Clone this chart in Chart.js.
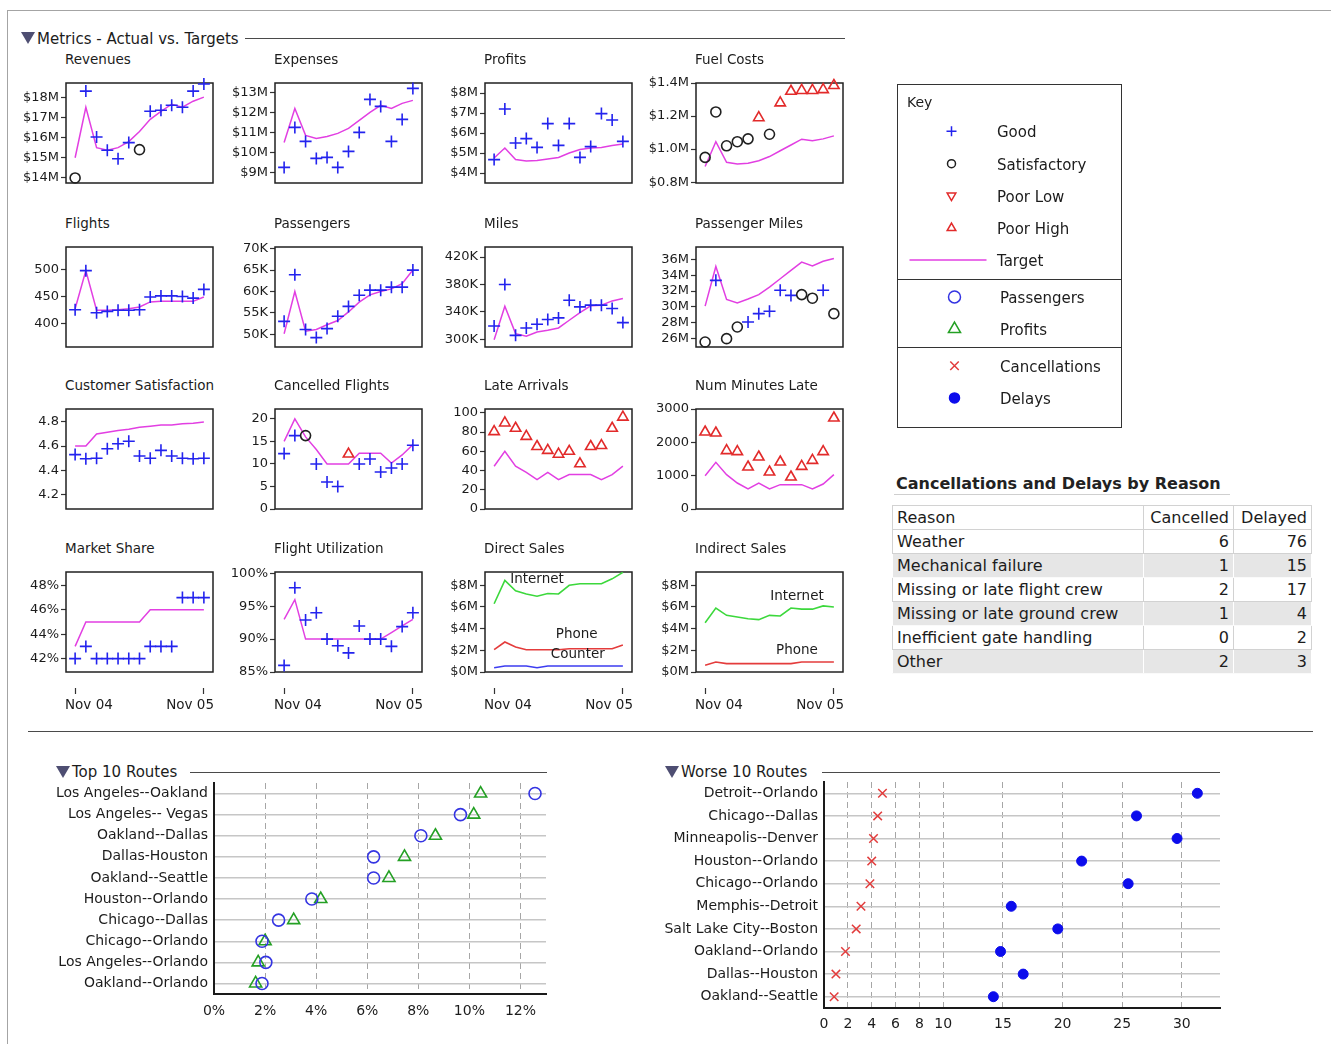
<!DOCTYPE html>
<html>
<head>
<meta charset="utf-8">
<title>Airline Metrics Dashboard</title>
<script src="https://cdn.jsdelivr.net/npm/chart.js@4.4.1/dist/chart.umd.min.js"></script>
<style>
  html, body { margin: 0; padding: 0; background: #fff; }
  body { width: 1331px; height: 1044px; position: relative; overflow: hidden;
         font-family: 'DejaVu Sans', sans-serif; color: #1c1c1c; }
  canvas { position: absolute; }
  .frame { position: absolute; left: 7px; top: 10px; width: 1400px; height: 1100px;
           border-left: 1.5px solid #a4a4a4; border-top: 1.5px solid #a4a4a4; }
  .ttl { position: absolute; font-size: 13.5px; line-height: 16px; white-space: nowrap; }
  .sec { position: absolute; font-size: 15px; line-height: 18px; white-space: nowrap; }
  .tri { position: absolute; width: 0; height: 0; border-left: 7px solid transparent;
         border-right: 7px solid transparent; border-top: 12px solid #4e4e72; }
  .rule { position: absolute; height: 0; border-top: 1.5px solid #4a4a4a; }
  #key { position: absolute; left: 897px; top: 84px; width: 225px; height: 344px;
         border: 1.5px solid #333; box-sizing: border-box; }
  #key .sep { position: absolute; left: 0; right: 0; height: 0; border-top: 1.5px solid #333; }
  #key .kt { position: absolute; font-size: 15px; line-height: 18px; white-space: nowrap; }
  #tblTitle { position: absolute; left: 896px; top: 474px; font-size: 16px; font-weight: bold;
              line-height: 20px; white-space: nowrap; color: #222; }
  #tblRule { position: absolute; left: 894px; top: 494px; width: 336px; height: 0;
             border-top: 1.5px solid #cfcfcf; }
  #reasons { position: absolute; left: 892px; top: 505px; border-collapse: collapse;
             font-size: 16px; table-layout: fixed; width: 419px; }
  #reasons td { height: 23px; padding: 0 4px; border: 1px solid #d2d2d2; line-height: 22px;
                white-space: nowrap; overflow: hidden; }
  #reasons td.n { text-align: right; }
  #reasons tr.alt td { background: #e6e6e6; border-color: #fafafa #fff #fafafa #fff; }
</style>
</head>
<body>
<div class="frame"></div>

<!-- section headers -->
<div class="tri" style="left:21px;top:32px;"></div>
<div class="sec" style="left:37px;top:30px;">Metrics - Actual vs. Targets</div>
<div class="rule" style="left:245px;top:38px;width:600px;"></div>

<div class="rule" style="left:28px;top:731px;width:1285px;border-top-width:1.5px;"></div>

<div class="tri" style="left:56px;top:766px;"></div>
<div class="sec" style="left:72px;top:763px;">Top 10 Routes</div>
<div class="rule" style="left:190px;top:772px;width:357px;"></div>

<div class="tri" style="left:665px;top:766px;"></div>
<div class="sec" style="left:681px;top:763px;">Worse 10 Routes</div>
<div class="rule" style="left:822px;top:772px;width:398px;"></div>

<!-- key -->
<div id="key">
  <canvas id="keyCanvas" width="222" height="341" style="left:0;top:0;width:222px;height:341px;"></canvas>
  <div class="kt" style="left:9px;top:8px;font-size:14px;">Key</div>
  <div class="kt" style="left:99px;top:38px;">Good</div>
  <div class="kt" style="left:99px;top:71px;">Satisfactory</div>
  <div class="kt" style="left:99px;top:103px;">Poor Low</div>
  <div class="kt" style="left:99px;top:135px;">Poor High</div>
  <div class="kt" style="left:99px;top:167px;">Target</div>
  <div class="sep" style="top:194px;"></div>
  <div class="kt" style="left:102px;top:204px;">Passengers</div>
  <div class="kt" style="left:102px;top:236px;">Profits</div>
  <div class="sep" style="top:262px;"></div>
  <div class="kt" style="left:102px;top:273px;">Cancellations</div>
  <div class="kt" style="left:102px;top:305px;">Delays</div>
</div>

<div id="tblTitle">Cancellations and Delays by Reason</div>
<div id="tblRule"></div>
<table id="reasons">
  <colgroup><col style="width:251px"><col style="width:90px"><col style="width:78px"></colgroup>
  <tbody id="reasonBody"></tbody>
</table>

<script>
// ---------- monthly metrics, Nov 04 .. Nov 05 ----------
const months = ['Nov 04','Dec 04','Jan 05','Feb 05','Mar 05','Apr 05','May 05',
                'Jun 05','Jul 05','Aug 05','Sep 05','Oct 05','Nov 05'];
const monthTicks = [0, 12];

// status codes: G good, S satisfactory, L poor low, H poor high
const revenuesActual = [14.0, 18.3, 16.03, 15.37, 14.95, 15.75, 15.4, 17.3, 17.35, 17.6, 17.5, 18.3, 18.65];
const revenuesStatus = ['S','G','G','G','G','G','S','G','G','G','G','G','G'];
const revenuesTarget = [15.0, 17.5, 15.5, 15.37, 15.5, 15.8, 16.3, 16.9, 17.3, 17.65, 17.5, 17.8, 18.0];
const revenuesTicks = [14, 15, 16, 17, 18];
const revenuesTickLabels = ['$14M', '$15M', '$16M', '$17M', '$18M'];

const expensesActual = [9.25, 11.25, 10.55, 9.7, 9.75, 9.25, 10.05, 11.0, 12.65, 12.3, 10.55, 11.65, 13.2];
const expensesStatus = ['G','G','G','G','G','G','G','G','G','G','G','G','G'];
const expensesTarget = [10.5, 12.2, 10.85, 10.7, 10.8, 10.95, 11.2, 11.6, 12.0, 12.35, 12.2, 12.45, 12.6];
const expensesTicks = [9, 10, 11, 12, 13];
const expensesTickLabels = ['$9M', '$10M', '$11M', '$12M', '$13M'];

const profitsActual = [4.67, 7.2, 5.5, 5.72, 5.28, 6.47, 5.38, 6.47, 4.78, 5.32, 6.97, 6.65, 5.58];
const profitsStatus = ['G','G','G','G','G','G','G','G','G','G','G','G','G'];
const profitsTarget = [4.75, 5.25, 4.67, 4.6, 4.62, 4.7, 4.78, 5.0, 5.17, 5.25, 5.28, 5.37, 5.45];
const profitsTicks = [4, 5, 6, 7, 8];
const profitsTickLabels = ['$4M', '$5M', '$6M', '$7M', '$8M'];

const fuelActual = [0.95, 1.225, 1.02, 1.045, 1.062, 1.19, 1.09, 1.28, 1.35, 1.355, 1.355, 1.36, 1.385];
const fuelStatus = ['S','S','S','S','S','H','S','H','H','H','H','H','H'];
const fuelTarget = [0.895, 1.045, 0.92, 0.91, 0.915, 0.93, 0.955, 0.99, 1.025, 1.06, 1.05, 1.062, 1.08];
const fuelTicks = [0.8, 1.0, 1.2, 1.4];
const fuelTickLabels = ['$0.8M', '$1.0M', '$1.2M', '$1.4M'];

const flightsActual = [425.5, 497.5, 420, 422.5, 424.5, 424.5, 425.5, 449, 451, 451, 450, 447, 463];
const flightsStatus = ['G','G','G','G','G','G','G','G','G','G','G','G','G'];
const flightsTarget = [427.5, 497.5, 424.5, 424.5, 425.5, 427.5, 430.7, 440, 441, 441, 441, 441, 449];
const flightsTicks = [400, 450, 500];
const flightsTickLabels = ['400', '450', '500'];

const passengersActual = [53.0, 63.9, 51.1, 49.2, 51.3, 54.2, 56.5, 59.1, 60.3, 60.3, 61.0, 61.0, 65.0];
const passengersStatus = ['G','G','G','G','G','G','G','G','G','G','G','G','G'];
const passengersTarget = [50.1, 60.0, 50.7, 51.1, 52.2, 53.2, 55.2, 57.5, 59.2, 60.0, 60.6, 61.8, 65.0];
const passengersTicks = [50, 55, 60, 65, 70];
const passengersTickLabels = ['50K', '55K', '60K', '65K', '70K'];

const milesActual = [319.5, 380, 305.8, 316.6, 322, 328.8, 331.2, 357, 347.3, 349.8, 349.8, 344.9, 324.4];
const milesStatus = ['G','G','G','G','G','G','G','G','G','G','G','G','G'];
const milesTarget = [299.5, 348.3, 308.3, 304.4, 310.7, 313.2, 316.6, 327.8, 339, 348.8, 349.8, 356, 359.5];
const milesTicks = [300, 340, 380, 420];
const milesTickLabels = ['300K', '340K', '380K', '420K'];

const paxMilesActual = [25.58, 33.35, 26.0, 27.47, 28.1, 29.15, 29.45, 32.1, 31.45, 31.55, 31.1, 32.1, 29.15];
const paxMilesStatus = ['S','G','S','S','G','G','G','G','G','S','S','G','S'];
const paxMilesTarget = [30.1, 35.1, 30.95, 30.5, 31.0, 31.55, 32.5, 33.55, 34.6, 35.65, 35.15, 35.75, 36.1];
const paxMilesTicks = [26, 28, 30, 32, 34, 36];
const paxMilesTickLabels = ['26M', '28M', '30M', '32M', '34M', '36M'];

const satisfactionActual = [4.53, 4.495, 4.50, 4.578, 4.62, 4.64, 4.518, 4.50, 4.565, 4.518, 4.50, 4.495, 4.50];
const satisfactionStatus = ['G','G','G','G','G','G','G','G','G','G','G','G','G'];
const satisfactionTarget = [4.6, 4.6, 4.70, 4.715, 4.73, 4.74, 4.756, 4.765, 4.775, 4.775, 4.785, 4.79, 4.8];
const satisfactionTicks = [4.2, 4.4, 4.6, 4.8];
const satisfactionTickLabels = ['4.2', '4.4', '4.6', '4.8'];

const cancelledActual = [12.3, 16.3, 16.3, 10.0, 6.0, 5.0, 12.2, 10.0, 11.1, 8.2, 9.1, 10.0, 14.15];
const cancelledStatus = ['G','G','S','G','G','G','H','G','G','G','G','G','G'];
const cancelledTarget = [15, 20, 16, 13.2, 10, 10, 10, 12.4, 12.4, 12.4, 10.2, 12, 14.3];
const cancelledTicks = [0, 5, 10, 15, 20];
const cancelledTickLabels = ['0', '5', '10', '15', '20'];

const lateActual = [80.5, 89.5, 84, 75.5, 65, 61, 57, 60, 47, 65, 66, 84, 95.5];
const lateStatus = ['H','H','H','H','H','H','H','H','H','H','H','H','H'];
const lateTarget = [44.5, 60, 44.5, 38, 30.5, 38, 30.5, 35.8, 35.8, 35.8, 30.5, 35.8, 44.5];
const lateTicks = [0, 20, 40, 60, 80, 100];
const lateTickLabels = ['0', '20', '40', '60', '80', '100'];

const minutesActual = [2310, 2280, 1750, 1720, 1260, 1560, 1110, 1410, 960, 1280, 1460, 1720, 2730];
const minutesStatus = ['H','H','H','H','H','H','H','H','H','H','H','H','H'];
const minutesTarget = [1000, 1400, 1030, 780, 600, 780, 600, 730, 730, 730, 600, 750, 1030];
const minutesTicks = [0, 1000, 2000, 3000];
const minutesTickLabels = ['0', '1000', '2000', '3000'];

const shareActual = [42, 43, 42, 42, 42, 42, 42, 43, 43, 43, 47, 47, 47];
const shareStatus = ['G','G','G','G','G','G','G','G','G','G','G','G','G'];
const shareTarget = [43, 45, 45, 45, 45, 45, 45, 46, 46, 46, 46, 46, 46];
const shareTicks = [42, 44, 46, 48];
const shareTickLabels = ['42%', '44%', '46%', '48%'];

const utilActual = [86, 97.8, 92.9, 94, 90, 89, 87.9, 92, 90, 90, 88.9, 91.9, 94];
const utilStatus = ['G','G','G','G','G','G','G','G','G','G','G','G','G'];
const utilTarget = [93, 96, 90, 90, 90, 90, 90, 90, 90, 90, 91, 92, 93];
const utilTicks = [85, 90, 95, 100];
const utilTickLabels = ['85%', '90%', '95%', '100%'];

const directInternet = [6.3, 8.45, 7.5, 7.2, 7.0, 7.25, 7.2, 8.0, 8.15, 8.15, 8.15, 8.6, 9.2];
const directPhone    = [2.06, 2.77, 2.3, 2.06, 2.06, 2.06, 2.06, 2.15, 2.15, 2.15, 2.15, 2.15, 2.5];
const directCounter  = [0.4, 0.55, 0.55, 0.55, 0.4, 0.55, 0.55, 0.55, 0.55, 0.55, 0.55, 0.55, 0.55];
const indirectInternet = [4.55, 5.9, 5.23, 5.07, 4.92, 4.83, 5.23, 5.17, 5.9, 5.8, 5.8, 6.1, 6.0];
const indirectPhone    = [0.62, 0.92, 0.77, 0.77, 0.77, 0.77, 0.77, 0.77, 0.77, 0.92, 0.92, 0.92, 0.92];
const salesTicks = [0, 2, 4, 6, 8];
const salesTickLabels = ['$0M', '$2M', '$4M', '$6M', '$8M'];

// ---------- cancellations and delays by reason ----------
const reasons   = ['Weather', 'Mechanical failure', 'Missing or late flight crew',
                   'Missing or late ground crew', 'Inefficient gate handling', 'Other'];
const cancelled = [6, 1, 2, 1, 0, 2];
const delayed   = [76, 15, 17, 4, 2, 3];

// ---------- routes ----------
const topRoutes = ['Los Angeles--Oakland', 'Los Angeles-- Vegas', 'Oakland--Dallas', 'Dallas-Houston',
                   'Oakland--Seattle', 'Houston--Orlando', 'Chicago--Dallas', 'Chicago--Orlando',
                   'Los Angeles--Orlando', 'Oakland--Orlando'];
const topPassengers = [12.57, 9.65, 8.1, 6.25, 6.25, 3.83, 2.53, 1.88, 2.03, 1.88];
const topProfits    = [10.44, 10.17, 8.67, 7.46, 6.85, 4.18, 3.12, 2.0, 1.73, 1.63];
const topTicks = [0, 2, 4, 6, 8, 10, 12];

const worseRoutes = ['Detroit--Orlando', 'Chicago--Dallas', 'Minneapolis--Denver', 'Houston--Orlando',
                     'Chicago--Orlando', 'Memphis--Detroit', 'Salt Lake City--Boston', 'Oakland--Orlando',
                     'Dallas--Houston', 'Oakland--Seattle'];
const worseCancellations = [4.9, 4.5, 4.15, 4.0, 3.85, 3.1, 2.7, 1.8, 1.0, 0.85];
const worseDelays        = [31.3, 26.2, 29.6, 21.6, 25.5, 15.7, 19.6, 14.8, 16.7, 14.2];
const worseTicks = [0, 2, 4, 6, 8, 10, 15, 20, 25, 30];

// ---------- styling ----------
const FONT = 'DejaVu Sans';
Chart.defaults.font.family = FONT;
Chart.defaults.color = '#1c1c1c';

const TARGET = '#e23fe2';
const MARK = {
  G: { style: 'cross',    color: '#2323ee', r: 6, rot: 0 },
  S: { style: 'circle',   color: '#202020', r: 5, rot: 0 },
  H: { style: 'triangle', color: '#e22a2a', r: 6, rot: 0 },
  L: { style: 'triangle', color: '#e22a2a', r: 6, rot: 180 }
};
const GREEN = '#3cd83c', RED = '#e43c3c', BLUE = '#3c3cf0';

// grid of small multiples: plot-box geometry
const colLeft = [66, 275, 485, 696];
const rowTop = [83, 247, 409, 572];
const boxW = 147, boxH = 100;

// plot frame around the chart area
const frameBox = {
  id: 'frameBox',
  beforeDatasetsDraw(chart, args, opts) {
    if (!opts.show) return;
    const { ctx, chartArea: a } = chart;
    ctx.save();
    ctx.strokeStyle = '#202020';
    ctx.lineWidth = 1.5;
    ctx.strokeRect(a.left, a.top, a.right - a.left, a.bottom - a.top);
    ctx.restore();
  }
};

// inline names for the sales channels
const seriesLabels = {
  id: 'seriesLabels',
  afterDatasetsDraw(chart, args, opts) {
    const items = opts.items || [];
    if (!items.length) return;
    const { ctx } = chart, xs = chart.scales.x, ys = chart.scales.y;
    ctx.save();
    ctx.font = '13.5px "' + FONT + '"';
    ctx.fillStyle = '#1c1c1c';
    ctx.textAlign = 'center';
    ctx.textBaseline = 'middle';
    items.forEach(it => ctx.fillText(it.text, xs.getPixelForValue(it.x), ys.getPixelForValue(it.y)));
    ctx.restore();
  }
};

// first / last month names, held inside the plot width under the tick marks
const edgeLabels = {
  id: 'edgeLabels',
  afterDraw(chart, args, opts) {
    if (!opts.show) return;
    const { ctx, chartArea: a } = chart;
    const xs = chart.scales.x;
    const first = months[monthTicks[0]], last = months[monthTicks[monthTicks.length - 1]];
    const y = a.bottom + opts.offset;
    ctx.save();
    ctx.font = '13.5px "' + FONT + '"';
    ctx.fillStyle = '#1c1c1c';
    ctx.textBaseline = 'middle';
    const wFirst = ctx.measureText(first).width, wLast = ctx.measureText(last).width;
    const x0 = Math.max(a.left - 1, xs.getPixelForValue(monthTicks[0]) - wFirst / 2);
    const x1 = Math.min(a.right + 1, xs.getPixelForValue(monthTicks[monthTicks.length - 1]) + wLast / 2);
    ctx.textAlign = 'left';
    ctx.fillText(first, x0, y);
    ctx.textAlign = 'right';
    ctx.fillText(last, x1, y);
    ctx.restore();
  }
};

const panels = [
  { title: 'Revenues', col: 0, row: 0, actual: revenuesActual, status: revenuesStatus, target: revenuesTarget,
    min: 13.75, max: 18.7, ticks: revenuesTicks, tickLabels: revenuesTickLabels },
  { title: 'Expenses', col: 1, row: 0, actual: expensesActual, status: expensesStatus, target: expensesTarget,
    min: 8.47, max: 13.47, ticks: expensesTicks, tickLabels: expensesTickLabels },
  { title: 'Profits', col: 2, row: 0, actual: profitsActual, status: profitsStatus, target: profitsTarget,
    min: 3.5, max: 8.5, ticks: profitsTicks, tickLabels: profitsTickLabels },
  { title: 'Fuel Costs', col: 3, row: 0, actual: fuelActual, status: fuelStatus, target: fuelTarget,
    min: 0.795, max: 1.4, ticks: fuelTicks, tickLabels: fuelTickLabels },
  { title: 'Flights', col: 0, row: 1, actual: flightsActual, status: flightsStatus, target: flightsTarget,
    min: 357, max: 541, ticks: flightsTicks, tickLabels: flightsTickLabels },
  { title: 'Passengers', col: 1, row: 1, actual: passengersActual, status: passengersStatus, target: passengersTarget,
    min: 47, max: 70.4, ticks: passengersTicks, tickLabels: passengersTickLabels },
  { title: 'Miles', col: 2, row: 1, actual: milesActual, status: milesStatus, target: milesTarget,
    min: 288.8, max: 434.6, ticks: milesTicks, tickLabels: milesTickLabels },
  { title: 'Passenger Miles', col: 3, row: 1, actual: paxMilesActual, status: paxMilesStatus, target: paxMilesTarget,
    min: 24.95, max: 37.55, ticks: paxMilesTicks, tickLabels: paxMilesTickLabels },
  { title: 'Customer Satisfaction', col: 0, row: 2, actual: satisfactionActual, status: satisfactionStatus,
    target: satisfactionTarget, min: 4.08, max: 4.907, ticks: satisfactionTicks, tickLabels: satisfactionTickLabels },
  { title: 'Cancelled Flights', col: 1, row: 2, actual: cancelledActual, status: cancelledStatus, target: cancelledTarget,
    min: 0, max: 22.2, ticks: cancelledTicks, tickLabels: cancelledTickLabels },
  { title: 'Late Arrivals', col: 2, row: 2, actual: lateActual, status: lateStatus, target: lateTarget,
    min: 0, max: 104, ticks: lateTicks, tickLabels: lateTickLabels },
  { title: 'Num Minutes Late', col: 3, row: 2, actual: minutesActual, status: minutesStatus, target: minutesTarget,
    min: 0, max: 3000, ticks: minutesTicks, tickLabels: minutesTickLabels },
  { title: 'Market Share', col: 0, row: 3, actual: shareActual, status: shareStatus, target: shareTarget,
    min: 40.9, max: 49.1, ticks: shareTicks, tickLabels: shareTickLabels },
  { title: 'Flight Utilization', col: 1, row: 3, actual: utilActual, status: utilStatus, target: utilTarget,
    min: 85, max: 100.2, ticks: utilTicks, tickLabels: utilTickLabels },
  { title: 'Direct Sales', col: 2, row: 3, min: 0, max: 9.23, ticks: salesTicks, tickLabels: salesTickLabels,
    lines: [{ data: directInternet, color: GREEN }, { data: directPhone, color: RED }, { data: directCounter, color: BLUE }],
    names: [{ text: 'Internet', x: 4.0, y: 8.5 }, { text: 'Phone', x: 7.7, y: 3.5 }, { text: 'Counter', x: 7.8, y: 1.65 }] },
  { title: 'Indirect Sales', col: 3, row: 3, min: 0, max: 9.23, ticks: salesTicks, tickLabels: salesTickLabels,
    lines: [{ data: indirectInternet, color: GREEN }, { data: indirectPhone, color: RED }],
    names: [{ text: 'Internet', x: 8.56, y: 6.95 }, { text: 'Phone', x: 8.56, y: 2.0 }] }
];

const toPoints = arr => arr.map((v, i) => ({ x: i, y: v }));

function createPanel(p) {
  const left = colLeft[p.col], top = rowTop[p.row];
  const bottomRow = p.row === 3;
  const padT = 14, padR = 28, axisW = 60, xAxisH = 50;
  const padB = bottomRow ? 0 : 14;
  const W = axisW + boxW + padR;
  const H = padT + boxH + (bottomRow ? xAxisH : padB);

  const cv = document.createElement('canvas');
  cv.width = W; cv.height = H;
  Object.assign(cv.style, { left: (left - axisW) + 'px', top: (top - padT) + 'px', width: W + 'px', height: H + 'px' });
  document.body.appendChild(cv);

  const t = document.createElement('div');
  t.className = 'ttl';
  t.textContent = p.title;
  t.style.left = (left - 1) + 'px';
  t.style.top = (top - 32) + 'px';
  document.body.appendChild(t);

  const datasets = [];
  if (p.target) {
    datasets.push({ data: toPoints(p.target), borderColor: TARGET, borderWidth: 1.5, pointRadius: 0,
                    tension: 0, fill: false, order: 2 });
  }
  (p.lines || []).forEach(l => datasets.push({ data: toPoints(l.data), borderColor: l.color, borderWidth: 1.6,
                                               pointRadius: 0, tension: 0, fill: false, order: 2 }));
  if (p.actual) {
    datasets.push({
      data: toPoints(p.actual), showLine: false, order: 1, clip: false,
      pointStyle: p.status.map(s => MARK[s].style),
      pointRadius: p.status.map(s => MARK[s].r),
      pointRotation: p.status.map(s => MARK[s].rot),
      pointBorderColor: p.status.map(s => MARK[s].color),
      pointBackgroundColor: 'rgba(0,0,0,0)',
      pointBorderWidth: 1.6
    });
  }

  const xScale = bottomRow ? {
    type: 'linear', min: -0.85, max: 12.85,
    afterBuildTicks: s => { s.ticks = monthTicks.map(v => ({ value: v })); },
    ticks: { display: false },
    grid: { display: true, drawOnChartArea: false, drawTicks: true, tickLength: 22,
            tickBorderDash: [0, 16, 6, 100], tickColor: '#333', tickWidth: 1.2 },
    border: { display: false },
    afterFit: s => { s.height = xAxisH; }
  } : { type: 'linear', min: -0.85, max: 12.85, display: false };

  new Chart(cv, {
    type: 'line',
    data: { datasets },
    options: {
      responsive: false, animation: false, devicePixelRatio: 1,
      layout: { padding: { left: 0, top: padT, right: padR, bottom: padB } },
      plugins: { legend: { display: false }, tooltip: { enabled: false },
                 frameBox: { show: true }, seriesLabels: { items: p.names || [] },
                 edgeLabels: { show: bottomRow, offset: 33 } },
      scales: {
        x: xScale,
        y: {
          type: 'linear', min: p.min, max: p.max,
          afterBuildTicks: s => { s.ticks = p.ticks.map(v => ({ value: v })); },
          ticks: { callback: v => p.tickLabels[p.ticks.indexOf(v)], font: { size: 13 }, color: '#1c1c1c', padding: 2 },
          grid: { drawOnChartArea: false, drawTicks: true, tickLength: 5, tickColor: '#333', tickWidth: 1.2 },
          border: { display: false },
          afterFit: s => { s.width = axisW; }
        }
      }
    },
    plugins: [frameBox, seriesLabels, edgeLabels]
  });
}

panels.forEach(createPanel);

// ---------- route dot plots ----------
function createRouteChart(cfg) {
  const cv = document.createElement('canvas');
  cv.width = cfg.w; cv.height = cfg.h;
  Object.assign(cv.style, { left: cfg.left + 'px', top: cfg.top + 'px', width: cfg.w + 'px', height: cfg.h + 'px' });
  document.body.appendChild(cv);
  new Chart(cv, {
    type: 'line',
    data: { labels: cfg.labels, datasets: cfg.datasets },
    options: {
      indexAxis: 'y', responsive: false, animation: false, devicePixelRatio: 1,
      layout: { padding: { left: 0, top: cfg.padTop, right: cfg.padRight, bottom: 0 } },
      plugins: { legend: { display: false }, tooltip: { enabled: false } },
      scales: {
        x: {
          type: 'linear', min: 0, max: cfg.max,
          afterBuildTicks: s => { s.ticks = cfg.ticks.map(v => ({ value: v })); },
          ticks: { callback: cfg.fmt, font: { size: 14 }, color: '#1c1c1c', padding: cfg.xPad, maxRotation: 0, autoSkip: false },
          grid: { color: '#a6a6a6', lineWidth: 1, drawTicks: false },
          border: { color: '#1a1a1a', width: 2, dash: [6, 4] },
          afterFit: s => { s.height = cfg.xAxisH; }
        },
        y: {
          type: 'category', offset: true,
          ticks: { font: { size: 14 }, color: '#1c1c1c', padding: 6, autoSkip: false },
          grid: { color: '#c6c6c6', lineWidth: 1.5, drawTicks: false, offset: false },
          border: { color: '#1a1a1a', width: 2 },
          afterFit: s => { s.width = cfg.yAxisW; }
        }
      }
    }
  });
}

createRouteChart({
  left: 20, top: 768, w: 535, h: 267, padTop: 15, padRight: 9, yAxisW: 194, xAxisH: 41, xPad: 9,
  labels: topRoutes, max: 13, ticks: topTicks, fmt: v => v + '%',
  datasets: [
    { label: 'Passengers', data: topPassengers, showLine: false, clip: false, pointStyle: 'circle', pointRadius: 6,
      pointBorderColor: '#3434e2', pointBackgroundColor: 'rgba(0,0,0,0)', pointBorderWidth: 1.6 },
    { label: 'Profits', data: topProfits, showLine: false, clip: false, pointStyle: 'triangle', pointRadius: 7,
      pointBorderColor: '#24a024', pointBackgroundColor: 'rgba(0,0,0,0)', pointBorderWidth: 1.6 }
  ]
});

createRouteChart({
  left: 650, top: 767, w: 580, h: 277, padTop: 15, padRight: 10, yAxisW: 174, xAxisH: 36, xPad: 8,
  labels: worseRoutes, max: 33.2, ticks: worseTicks, fmt: v => String(v),
  datasets: [
    { label: 'Cancellations', data: worseCancellations, showLine: false, clip: false, pointStyle: 'crossRot',
      pointRadius: 6, pointBorderColor: '#e23c3c', pointBackgroundColor: 'rgba(0,0,0,0)', pointBorderWidth: 1.5 },
    { label: 'Delays', data: worseDelays, showLine: false, clip: false, pointStyle: 'circle', pointRadius: 5,
      pointBorderColor: '#0c0cec', pointBackgroundColor: '#0c0cec', pointBorderWidth: 1 }
  ]
});

// ---------- reason table ----------
(function buildTable() {
  const body = document.getElementById('reasonBody');
  const head = document.createElement('tr');
  head.innerHTML = '<td>Reason</td><td class="n">Cancelled</td><td class="n">Delayed</td>';
  body.appendChild(head);
  reasons.forEach((r, i) => {
    const tr = document.createElement('tr');
    if (i % 2 === 1) tr.className = 'alt';
    tr.innerHTML = '<td>' + r + '</td><td class="n">' + cancelled[i] + '</td><td class="n">' + delayed[i] + '</td>';
    body.appendChild(tr);
  });
})();

// ---------- key symbols ----------
(function drawKey() {
  const cv = document.getElementById('keyCanvas');
  const ctx = cv.getContext('2d');
  const ox = 898.5, oy = 85.5;
  const symbols = [
    { x: 952, y: 131.7, style: 'cross', r: 5, rot: 0, color: '#2323ee' },
    { x: 952, y: 164.2, style: 'circle', r: 4, rot: 0, color: '#202020' },
    { x: 952, y: 196, style: 'triangle', r: 5, rot: 180, color: '#e22a2a' },
    { x: 952, y: 228.5, style: 'triangle', r: 5, rot: 0, color: '#e22a2a' },
    { x: 955, y: 297.4, style: 'circle', r: 6, rot: 0, color: '#3434e2' },
    { x: 955, y: 329.5, style: 'triangle', r: 7, rot: 0, color: '#24a024' },
    { x: 955, y: 366.3, style: 'crossRot', r: 6, rot: 0, color: '#e23c3c' },
    { x: 955, y: 398.4, style: 'circle', r: 5, rot: 0, color: '#0c0cec', fill: true }
  ];
  const drawPoint = Chart.helpers && Chart.helpers.drawPoint;
  symbols.forEach(s => {
    ctx.save();
    ctx.strokeStyle = s.color;
    ctx.fillStyle = s.fill ? s.color : 'rgba(0,0,0,0)';
    ctx.lineWidth = 1.5;
    if (drawPoint) {
      drawPoint(ctx, { pointStyle: s.style, radius: s.r, rotation: s.rot, borderWidth: 1.5 }, s.x - ox, s.y - oy);
    } else {
      ctx.beginPath();
      ctx.arc(s.x - ox, s.y - oy, s.r, 0, Math.PI * 2);
      if (s.fill) ctx.fill();
      ctx.stroke();
    }
    ctx.restore();
  });
  ctx.save();
  ctx.strokeStyle = TARGET;
  ctx.lineWidth = 1.5;
  ctx.beginPath();
  ctx.moveTo(910 - ox, 260.6 - oy);
  ctx.lineTo(987 - ox, 260.6 - oy);
  ctx.stroke();
  ctx.restore();
})();
</script>
</body>
</html>
